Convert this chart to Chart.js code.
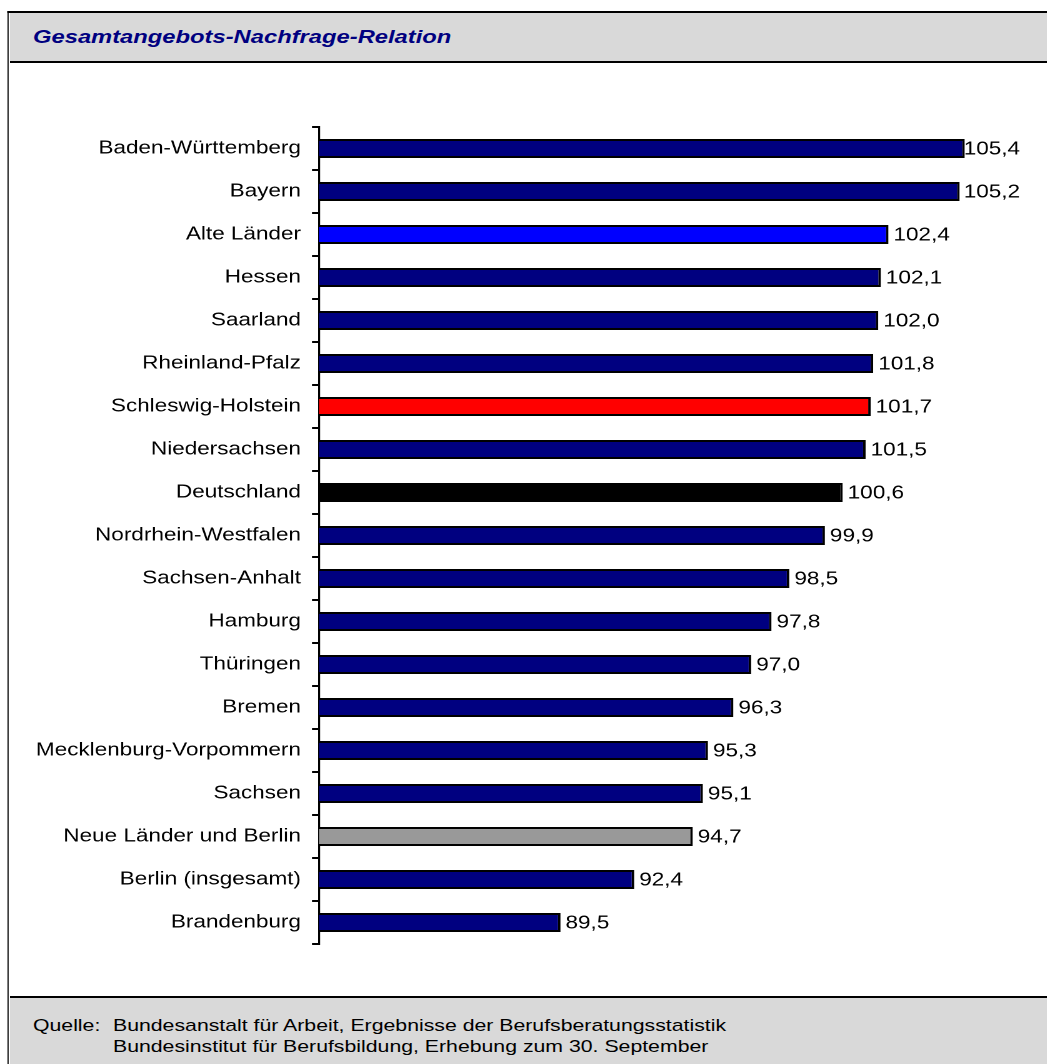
<!DOCTYPE html>
<html>
<head>
<meta charset="utf-8">
<script src="https://cdn.jsdelivr.net/npm/chart.js@4/dist/chart.umd.min.js"></script>
<style>
  html, body { margin:0; padding:0; background:#fff; width:1047px; height:1064px; overflow:hidden; }
  #wrap { position:absolute; left:0; top:0; width:838px; height:1064px; transform:scaleX(1.25); transform-origin:0 0; font-family:"Liberation Sans", Arial, sans-serif; }
  #frame { position:absolute; left:6px; top:11px; width:1000px; height:1200px; border-left:1.6px solid #000; border-top:2px solid #000; background:#fff; box-sizing:border-box; }
  #header { position:absolute; left:7.6px; top:13px; width:1000px; height:48px; background:#d9d9d9; border-bottom:2px solid #000; }
  #footer { position:absolute; left:7.6px; top:996px; width:1000px; height:100px; background:#d9d9d9; border-top:2px solid #000; }
  #title { position:absolute; left:26.4px; top:13px; height:48px; line-height:48px; font-style:italic; font-weight:bold; font-size:19px; color:#000080; white-space:nowrap; }
  .src { position:absolute; font-size:17px; line-height:21px; color:#000; white-space:nowrap; }
  #chart { position:absolute; left:0; top:63px; }
</style>
</head>
<body>
<div id="wrap">
  <div id="frame"></div>
  <div id="header"></div>
  <div id="footer"></div>
  <div id="title">Gesamtangebots-Nachfrage-Relation</div>
  <div class="src" style="left:26.4px; top:1014.5px;">Quelle:</div>
  <div class="src" style="left:90.4px; top:1014.5px;">Bundesanstalt für Arbeit, Ergebnisse der Berufsberatungsstatistik<br>Bundesinstitut für Berufsbildung, Erhebung zum 30. September</div>
  <canvas id="chart" width="830" height="934"></canvas>
</div>
<script>
const categories = ['Baden-Württemberg','Bayern','Alte Länder','Hessen','Saarland','Rheinland-Pfalz','Schleswig-Holstein','Niedersachsen','Deutschland','Nordrhein-Westfalen','Sachsen-Anhalt','Hamburg','Thüringen','Bremen','Mecklenburg-Vorpommern','Sachsen','Neue Länder und Berlin','Berlin (insgesamt)','Brandenburg'];
const values = [105.4,105.2,102.4,102.1,102.0,101.8,101.7,101.5,100.6,99.9,98.5,97.8,97.0,96.3,95.3,95.1,94.7,92.4,89.5];
const highlightColors = {
  'Alte Länder': '#0000ff',
  'Schleswig-Holstein': '#ff0000',
  'Deutschland': '#000000',
  'Neue Länder und Berlin': '#999999'
};
const defaultColor = '#000080';
const FONT = '"Liberation Sans", Arial, sans-serif';

const valueLabels = {
  id: 'valueLabels',
  afterDatasetsDraw(chart) {
    const ctx = chart.ctx;
    const meta = chart.getDatasetMeta(0);
    const limit = chart.chartArea.right + 32;
    ctx.save();
    ctx.font = '18px ' + FONT;
    ctx.fillStyle = '#000';
    ctx.textAlign = 'left';
    ctx.textBaseline = 'middle';
    meta.data.forEach((bar, i) => {
      const txt = values[i].toFixed(1).replace('.', ',');
      const w = ctx.measureText(txt).width;
      const x = Math.min(bar.x + 4, limit - w);
      ctx.fillText(txt, x, bar.y + 1);
    });
    ctx.restore();
  }
};

new Chart(document.getElementById('chart'), {
  type: 'bar',
  data: {
    labels: categories,
    datasets: [{
      data: values,
      backgroundColor: categories.map(c => highlightColors[c] || defaultColor),
      borderColor: '#000',
      borderWidth: 2,
      borderSkipped: false,
      categoryPercentage: 0.9,
      barPercentage: 0.49
    }]
  },
  options: {
    indexAxis: 'y',
    responsive: false,
    animation: false,
    devicePixelRatio: 2,
    layout: { padding: { left: 0, top: 64, right: 46, bottom: 53 } },
    plugins: { legend: { display: false }, tooltip: { enabled: false }, title: { display: false } },
    scales: {
      x: { display: false, min: 80, max: 106 },
      y: {
        afterFit(scale) { scale.width = 255.2; },
        border: { display: true, color: '#000', width: 1.6 },
        grid: { display: true, drawOnChartArea: false, drawTicks: true, tickLength: 5.6, color: '#000', lineWidth: 2, offset: true },
        ticks: { color: '#000', font: { family: FONT, size: 18 }, padding: 8.8, autoSkip: false }
      }
    }
  },
  plugins: [valueLabels]
});
</script>
</body>
</html>
